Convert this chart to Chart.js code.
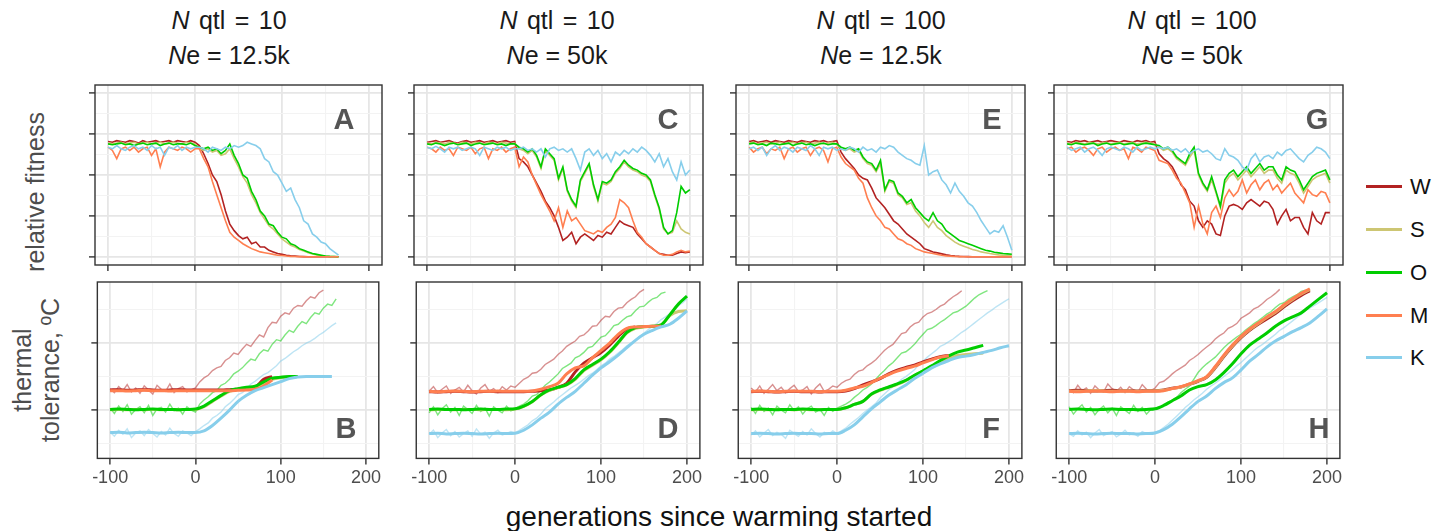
<!DOCTYPE html>
<html>
<head>
<meta charset="UTF-8">
<title>Relative fitness and thermal tolerance</title>
<script src="https://cdn.jsdelivr.net/npm/chart.js@4.4.1/dist/chart.umd.min.js"></script>
<style>
body { margin:0; background:#fff; width:1444px; height:531px; position:relative; overflow:hidden;
  font-family:"Liberation Sans", Arial, sans-serif; }
.hdr { position:absolute; transform:translateX(-50%); font-size:25px; color:#1a1a1a; white-space:nowrap; line-height:1; }
.hdr.q { word-spacing:2.5px; }
.rot { position:absolute; transform:translate(-50%,-50%) rotate(-90deg); font-size:25px; color:#4d4d4d;
  white-space:nowrap; text-align:center; line-height:28px; }
.let { position:absolute; transform:translate(-50%,-50%); font-size:29px; font-weight:bold; color:#555; line-height:1; }
.leg { position:absolute; left:1366px; width:36px; height:3px; }
.legt { position:absolute; left:1410px; font-size:22px; color:#111; line-height:1; transform:translateY(-50%); }
.xt { position:absolute; left:719px; top:503px; transform:translateX(-50%); font-size:28px; color:#111; white-space:nowrap; line-height:1; }
.wrap { position:absolute; }
</style>
</head>
<body>

<div class="hdr q" style="left:229px;top:8px"><i>N</i> qtl = 10</div>
<div class="hdr" style="left:229px;top:43px"><i>N</i>e = 12.5k</div>
<div class="hdr q" style="left:557px;top:8px"><i>N</i> qtl = 10</div>
<div class="hdr" style="left:557px;top:43px"><i>N</i>e = 50k</div>
<div class="hdr q" style="left:881px;top:8px"><i>N</i> qtl = 100</div>
<div class="hdr" style="left:881px;top:43px"><i>N</i>e = 12.5k</div>
<div class="hdr q" style="left:1192px;top:8px"><i>N</i> qtl = 100</div>
<div class="hdr" style="left:1192px;top:43px"><i>N</i>e = 50k</div>

<div class="rot" style="left:35px;top:192px">relative fitness</div>
<div class="rot" style="left:36px;top:370px">thermal<br>tolerance, ºC</div>

<div class="xt">generations since warming started</div>

<div class="leg" style="top:185px;background:#b22222"></div><div class="legt" style="top:187px">W</div>
<div class="leg" style="top:228px;background:#cdc673"></div><div class="legt" style="top:230px">S</div>
<div class="leg" style="top:271px;background:#00cd00"></div><div class="legt" style="top:273px">O</div>
<div class="leg" style="top:314px;background:#ff7f50"></div><div class="legt" style="top:316px">M</div>
<div class="leg" style="top:356px;background:#87ceeb"></div><div class="legt" style="top:358px">K</div>

<script>
// generations
const gen5 = [-100,-95,-90,-85,-80,-75,-70,-65,-60,-55,-50,-45,-40,-35,-30,-25,-20,-15,-10,-5,0,
  5,10,15,20,25,30,35,40,45,50,55,60,65,70,75,80,85,90,95,100,105,110,115,120,125,130,135,140,145,150,
  155,160,165,170,175,180,185,190,195,200];
const gen10 = [-100,-90,-80,-70,-60,-50,-40,-30,-20,-10,0,10,20,30,40,50,60,70,80,90,100,110,120,130,140,150,160,170,180,190,200];

const xGrid = [-100,-50,0,50,100,150,200];
const xLabels = [-100,0,100,200];
const fitGrid = [0,12.5,25,37.5,50,62.5,75,87.5,100];
const fitMajor = [0,25,50,75,100];
const tolGrid = [-5,0,5,10,15];
const tolMajor = [0,10];

// relative fitness (top row), every 5 generations
const fitA_W = [70.5,70,71,70.5,70,71,70.5,69.5,71,70,70.5,71,70,70.5,71,70,71,70.5,70,71,70,
  68,63,57,50,46,38,28,20,16,13,11,12,8,9,6,6,4,3,2,1.5,1,0.6,0.4,0.2,0.1,0,0,0,0,0,0,0,0];
const fitA_S = [69.5,69,69.5,70,69,69.5,70,69,69.5,70,69,69.5,70,69,69.5,70,69.5,69,70,69.5,69,
  66,65,66,64,65,62,63,66,60,55,49,45,38,33,27,23,19,17,14,11,9,7,6,4.5,3.5,2.5,1.8,1.2,0.8,0.4,0.2,0.1,0];
const fitA_O = [69,68.5,69,69.5,68.5,69,68,69,69.5,68.5,69,69.5,68,69,69.5,68.5,69,69,68.5,69.5,68,
  67,66,67,65,66,63,65,69,62,57,50,48,40,35,28,25,20,19,15,12,11,8,7,5,4,3,2,1.5,1,0.5,0.3,0.2,0];
const fitA_M = [67,65,60,66,67,65,67,64,66,67,62,66,55,64,67,66,65,67,66,64,66,
  66,60,55,46,38,30,22,15,12,10,8,6.5,5,4,3,2.5,2,1.5,1,0.8,0.5,0.3,0.2,0.1,0,0,0,0,0,0,0,0,0];
const fitA_K = [67,66,68,66,65,67,68,66,67,65,68,66,67,62,67,66,68,65,67,66,67,
  67,66,64,67,66,65,67,66,68,67,68,70,69,68,66,60,58,52,50,45,40,42,35,30,22,20,14,12,9,8,5,3,1];

const fitC_W = [70,70.5,71,70,70.5,71,70,69.5,70.5,71,70,70.5,71,70,70.5,71,70,70.5,71,70,70.5,
  60,58,55,50,45,40,34,30,25,18,10,12,15,8,12,14,12,10,13,12,15,14,18,22,20,19,18,14,11,8,6,4,2,1.5,1,1,2,3,2.5,3];
const fitC_S = [69.5,69,70,69.5,69,70,69.5,69,70,69.5,69,70,69.5,69,70,69.5,69,70,69.5,69,69.5,
  66,65,63,65,61,54,65,62,59,47,54,40,34,30,46,51,56,43,34,45,44,46,51,54,58,55,53,52,50,49,46,37,29,17,14,15,22,17,15,14];
const fitC_O = [69,68.5,69.5,69,68,69,69.5,68.5,69,69.5,68,69,69.5,68.5,69,69.5,68.5,69,68,69,69,
  67,66,64,66,62,55,66,63,60,48,55,41,35,31,47,52,57,44,35,46,45,47,52,55,59,56,54,53,51,50,47,38,30,18,14,16,27,43,39,41];
const fitC_M = [67,66,64,67,65,66,62,67,66,65,67,63,66,67,60,66,65,67,64,66,67,
  55,61,58,50,44,38,33,28,22,30,18,28,22,24,20,16,15,14,16,15,18,20,24,35,33,30,22,15,12,8,6,4,2,1,1,1.5,3,4,3,3.5];
const fitC_K = [67,66,67.5,66,64,67,66,67,65,66,67,66,62,67,66,65,67,66,67,65,66,
  66,67,65,66,64,66,61,66,67,65,66,64,66,60,53,64,66,62,65,60,63,58,64,62,65,63,66,64,67,65,62,58,63,55,60,52,47,58,50,53];

const fitE_W = [70.5,71,70,70.5,71,70,71,70.5,70,71,70.5,70,71,70.5,70,71,70.5,71,70,70.5,71,
  64,60,57,54,50,48,47,42,36,33,30,26,22,20,17,14,12,10,8,5,4,3,2.4,1.8,1.2,0.8,0.5,0.3,0.2,0.1,0,0,0,0,0,0,0,0,0,0];
const fitE_S = [69.5,70,69,69.5,70,69,69.5,70,69,69.5,70,69,69.5,70,69,69.5,70,69,69.5,70,69,
  66,65,66,64,65,60,57,56,52,57,40,46,45,38,36,32,33,28,25,21,18,22,18,16,13,11,9,7.5,6.5,5.5,4.5,3.8,3,2.5,2,1.6,1.2,1,0.8,0.6];
const fitE_O = [69,69.5,68.5,69,68,69.5,69,68.5,69,69.5,68,69,69.5,68.5,69,68,69,69.5,68.5,69,69,
  67,66,67,65,66,61,58,57,53,59,41,47,46,39,37,33,35,30,27,24,22,27,22,20,16,14,12,10,9,8,7,6,5,4,3.5,2.8,2.4,2,1.8,1.6];
const fitE_M = [67,64,66,67,63,66,65,67,60,66,67,64,66,67,62,66,67,65,58,66,67,
  61,57,55,53,48,45,36,30,25,22,18,17,14,11,10,8,7,5,4,3,2.5,2,1.5,1,0.6,0.4,0.2,0.1,0,0,0,0,0,0,0,0,0,0,0,0];
const fitE_K = [66,67,65,67,62,66,68,65,67,66,64,67,66,65,68,66,62,67,66,67,65,
  66,65,67,66,64,67,65,66,64,67,66,68,67,64,62,60,59,57,56,68,50,52,53,47,44,39,45,40,37,33,31,27,22,18,14,16,15,19,12,4];

const fitG_W = [70.5,70,71,70.5,71,70,70.5,71,70,70.5,71,70.5,70,71,70.5,70,71,70.5,71,70,70.5,
  63,60,58,55,50,44,41,34,31,22,18,22,20,14,13,25,31,32,31,29,33,35,33,31,34,33,29,20,25,29,22,24,24,18,14,27,22,20,27,27];
const fitG_S = [69.5,69,70,69.5,69,70,69.5,69,69.5,70,69,69.5,70,69,69.5,70,69,69.5,70,69.5,69,
  67,65,66,64,60,58,56,61,65,50,44,40,47,39,30,45,49,51,47,50,53,49,52,55,51,53,53,48,45,53,51,50,45,39,43,47,49,50,51,45];
const fitG_O = [69,68.5,69.5,69,68.5,69,69.5,68,69,69.5,68.5,69,69.5,68.5,69,69.5,68,69,69.5,69,68.5,
  68,66,67,65,61,59,57,63,67,51,45,41,49,40,31,47,51,53,49,52,55,51,54,57,53,55,55,50,47,55,53,52,47,41,45,49,51,52,53,47];
const fitG_M = [66,67,64,66,67,65,62,66,67,64,66,67,65,66,60,67,66,64,67,66,65,
  59,58,57,53,48,45,39,33,18,31,20,14,27,31,24,36,41,37,40,47,39,44,47,41,45,47,41,44,39,42,45,39,36,33,41,38,37,40,39,33];
const fitG_K = [67,65,66,67,64,66,67,65,62,66,67,66,65,67,66,64,67,65,66,67,66,
  67,66,67,65,66,64,66,63,65,66,64,65,63,60,59,66,62,61,59,55,53,60,63,58,61,62,60,64,62,65,66,63,60,58,62,64,67,66,64,60];

// thermal tolerance (bottom row): faint environment lines every 5 generations
const tolB_Wf = [3.2,2.6,3.5,2.9,3.8,2.7,3.3,2.5,3.6,3.0,2.4,3.7,3.1,2.8,3.9,2.6,3.2,3.5,2.7,3.0,3.3,
  4.2,4.8,5.2,5.9,6.3,6.5,7.4,7.8,8.5,8.3,9.1,9.8,9.5,10.4,11.2,10.9,12.3,13.1,13.0,14.0,14.5,14.3,15.2,15.6,15.5,16.3,16.9,16.7,17.5,17.9];
const tolB_Of = [0.3,-0.5,0.6,-0.2,0.8,-0.6,0.1,0.5,-0.4,0.7,-0.8,0.2,0.4,-0.3,0.9,-0.1,0.3,-0.6,0.5,0.0,-0.3,
  0.9,1.5,2.0,2.6,2.9,3.7,4.0,4.6,5.4,5.8,6.3,7.0,7.6,7.4,8.4,9.0,8.8,9.8,10.5,10.3,11.2,11.9,11.6,12.5,13.2,12.9,13.8,14.5,14.3,15.2,15.8,15.6,16.6];
const tolB_Kf = [-3.3,-3.9,-3.0,-3.6,-2.8,-4.1,-3.4,-3.1,-3.8,-2.9,-3.5,-4.0,-3.2,-3.7,-2.7,-3.5,-3.9,-3.1,-3.4,-3.8,-3.2,
  -2.8,-2.3,-1.9,-1.2,-0.8,-0.3,0.5,1.0,1.6,2.3,2.6,3.2,3.9,4.3,4.8,5.3,5.6,6.1,6.6,7.3,7.7,8.2,8.7,9.1,9.6,10.0,10.3,10.7,11.2,11.6,12.1,12.6,13.0];

const tolD_Wf = [2.8,3.5,2.6,3.1,3.6,2.5,3.0,3.4,2.7,3.7,2.9,2.4,3.3,3.8,2.8,3.2,2.6,3.5,3.0,3.6,3.4,
  4.0,4.6,4.9,5.5,5.6,6.1,6.8,7.2,7.6,8.3,8.8,9.5,9.9,10.3,11.0,11.2,11.8,12.5,12.6,13.4,14.0,13.9,14.7,15.2,15.3,16.0,16.5,16.9,17.6,18.0];
const tolD_Of = [-0.4,0.5,-0.7,0.2,0.8,-0.3,0.4,-0.8,0.6,0.1,-0.5,0.7,-0.2,0.3,-0.9,0.5,0.0,-0.4,0.6,-0.1,0.2,
  0.6,0.9,1.4,2.1,2.3,3.0,3.7,4.2,4.8,5.4,6.2,6.6,7.0,7.8,8.1,8.6,9.3,9.5,10.2,10.9,11.1,11.8,12.6,12.8,13.4,13.9,14.1,14.8,15.4,15.5,16.1,16.6,16.8,17.4,17.6];
const tolD_Kf = [-3.6,-3.0,-4.1,-3.4,-2.9,-3.8,-3.2,-4.0,-3.5,-3.1,-3.9,-2.8,-3.6,-3.3,-4.2,-3.4,-3.0,-3.7,-3.5,-3.2,-3.4,
  -3.0,-2.6,-2.2,-1.6,-1.2,-0.6,0.2,0.7,1.2,1.8,2.3,2.8,3.3,3.7,4.1,4.6,5.1,5.5,6.0,6.6,7.0,7.6,8.0,8.5,9.0,9.6,10.0,10.4,11.0,11.5,12.0,12.5,12.9,13.5,13.9,14.4,15.0,15.6,16.0,16.6];

const tolF_Wf = [3.3,2.7,3.6,2.5,3.1,3.8,2.9,3.4,2.6,3.2,3.7,2.8,3.0,3.5,2.4,3.3,3.9,2.8,3.1,3.6,3.4,
  4.0,4.4,4.6,5.3,5.8,6.0,6.6,7.0,7.5,8.2,8.9,9.4,9.8,10.6,11.4,11.6,12.4,12.9,13.1,13.9,14.4,14.6,15.0,15.5,15.8,16.4,16.9,17.3,17.8];
const tolF_Of = [0.4,-0.5,0.7,-0.2,0.3,-0.7,0.6,0.0,-0.4,0.8,-0.1,0.5,-0.6,0.2,0.6,-0.3,0.1,-0.8,0.4,-0.2,0.3,
  0.6,0.9,1.3,1.9,2.4,3.0,3.4,3.9,4.6,5.3,5.9,6.6,7.1,7.8,8.5,8.7,9.2,9.8,10.6,11.3,12.0,12.2,12.6,13.1,13.5,14.0,14.5,14.7,15.1,15.5,16.1,16.7,17.2,17.5,17.8];
const tolF_Kf = [-3.7,-3.1,-4.0,-3.4,-2.9,-3.8,-3.3,-3.6,-4.2,-3.0,-3.5,-3.9,-3.2,-3.7,-2.8,-3.5,-4.0,-3.3,-3.6,-3.1,-3.5,
  -3.1,-2.7,-2.1,-1.6,-1.1,-0.5,0.0,0.5,1.0,1.8,2.4,3.0,3.5,4.0,4.6,5.0,5.5,6.0,6.8,7.3,7.9,8.4,8.9,9.5,9.8,10.2,10.6,11.1,11.6,12.0,12.5,13.0,13.5,14.0,14.5,14.9,15.4,15.8,16.2,16.6];

const tolH_Wf = [3.1,2.6,3.7,2.9,3.3,2.5,3.6,3.0,2.7,3.9,3.2,2.8,3.4,2.6,3.5,3.0,2.7,3.8,3.1,2.9,3.3,
  4.1,4.3,4.8,5.4,5.9,6.3,6.7,7.4,7.8,8.3,8.9,9.4,9.9,10.6,11.1,11.5,12.2,12.5,12.9,13.7,14.1,14.5,15.1,15.4,15.9,16.5,16.9,17.4,18.0];
const tolH_Of = [0.5,-0.6,0.2,0.8,-0.3,0.4,-0.7,0.1,0.6,-0.4,0.3,-0.8,0.5,0.0,-0.5,0.7,-0.2,0.4,-0.6,0.1,0.2,
  0.4,0.7,1.2,1.5,1.9,2.6,3.1,3.6,4.6,5.6,6.3,6.9,7.4,7.9,8.6,9.3,9.9,10.4,10.9,11.3,11.9,12.4,12.9,13.3,13.8,14.3,14.7,15.3,15.8,16.0,16.5,16.9,17.2,17.7,17.9];
const tolH_Kf = [-3.5,-3.9,-3.1,-3.7,-3.3,-4.1,-3.4,-2.9,-3.8,-3.5,-3.2,-4.0,-3.6,-3.0,-3.7,-3.4,-3.9,-3.2,-3.5,-3.6,-3.3,
  -3.1,-2.6,-2.1,-1.5,-0.9,-0.3,0.4,0.9,1.5,2.0,2.5,3.1,3.6,4.0,4.5,5.0,5.5,6.0,6.6,7.1,7.7,8.3,8.9,9.4,9.8,10.3,10.8,11.3,11.9,12.3,12.8,13.3,13.8,14.3,14.9,15.2,15.6,16.0,16.4,16.8];

// mean thermal tolerance (bold lines), every 10 generations
const tolB_W = [3.0,3.05,2.95,3.0,3.05,3.0,2.95,3.0,3.05,3.0,3.0, 3.0,3.0,3.0,3.05,3.1,3.2,3.4,4.6,5.0];
const tolB_M = [2.9,2.9,2.85,2.9,2.95,2.9,2.9,2.85,2.9,2.9,2.9, 2.9,2.9,2.9,2.9,2.95,3.0,3.1,3.6,4.5];
const tolB_S = [0.05,0.1,0.05,0.1,0.05,0.1,0.05,0.1,0.05,0.1,0.1, 0.5,1.3,2.1,2.8,3.1,3.3,3.5,4.0,4.6,4.85,4.95,5.0];
const tolB_O = [0.1,0.15,0.1,0.05,0.1,0.15,0.1,0.1,0.05,0.1,0.15, 0.6,1.4,2.2,2.9,3.2,3.4,3.55,4.2,4.75,4.9,5.0,5.0];
const tolB_K = [-3.35,-3.3,-3.4,-3.35,-3.3,-3.35,-3.4,-3.35,-3.3,-3.35,-3.35, -3.1,-2.3,-1.2,0.0,1.3,2.2,2.9,3.35,3.8,4.25,4.7,4.95,5.0,5.0,5.0,5.0];

const tolD_W = [2.75,2.7,2.75,2.8,2.75,2.7,2.75,2.8,2.75,2.75,2.75, 2.75,2.8,2.9,3.0,3.4,4.0,5.7,7.0,7.8,8.6,9.7,11.0,12.1,12.4];
const tolD_M = [2.8,2.75,2.8,2.85,2.8,2.75,2.8,2.8,2.85,2.8,2.8, 2.8,2.85,3.1,3.5,4.0,5.4,6.3,6.6,7.8,8.9,10.0,11.3,12.2,12.4,12.45,12.5,12.5];
const tolD_S = [0.05,0.1,0.1,0.05,0.1,0.1,0.05,0.1,0.1,0.05,0.15, 0.55,1.25,2.25,2.95,3.35,3.75,4.6,5.9,6.7,7.5,8.6,10.0,11.5,12.2,12.4,12.5,12.7,14.1,14.7,14.8];
const tolD_O = [0.1,0.15,0.1,0.1,0.05,0.1,0.15,0.1,0.1,0.15,0.2, 0.6,1.3,2.3,3.0,3.4,3.8,4.7,6.0,6.8,7.6,8.7,10.1,11.6,12.3,12.45,12.5,12.7,14.2,15.8,17.0];
const tolD_K = [-3.5,-3.45,-3.55,-3.5,-3.45,-3.5,-3.55,-3.5,-3.45,-3.5,-3.45, -3.0,-2.2,-1.2,-0.3,0.9,1.9,2.8,4.0,5.2,6.3,7.2,8.2,9.3,10.4,11.3,11.9,12.4,12.8,13.7,14.8];

const tolF_W = [2.75,2.8,2.75,2.7,2.75,2.8,2.75,2.75,2.7,2.75,2.75, 2.85,3.2,3.75,4.2,4.7,5.4,5.95,6.35,6.7,7.2,7.6,7.95,8.15];
const tolF_M = [2.8,2.85,2.8,2.75,2.8,2.85,2.8,2.8,2.75,2.8,2.8, 2.95,3.3,3.55,4.1,4.75,5.3,5.8,6.2,6.55,7.05,7.5,7.9,8.1];
const tolF_S = [0.05,0.1,0.05,0.1,0.1,0.05,0.1,0.05,0.1,0.1,0.1, 0.35,0.85,1.3,2.35,2.95,3.4,3.85,4.4,5.15,5.8,6.45,7.1,7.75,8.15,8.3,8.4,8.5];
const tolF_O = [0.1,0.15,0.1,0.05,0.1,0.1,0.15,0.1,0.05,0.1,0.1, 0.35,0.85,1.3,2.4,3.0,3.45,3.9,4.45,5.2,5.85,6.6,7.4,8.1,8.65,8.95,9.3,9.65];
const tolF_K = [-3.5,-3.45,-3.5,-3.55,-3.5,-3.45,-3.5,-3.5,-3.55,-3.5,-3.5, -3.0,-2.2,-1.0,0.2,1.2,2.2,3.0,3.75,4.7,5.5,6.3,6.9,7.4,7.85,8.05,8.3,8.6,8.9,9.3,9.6];

const tolH_W = [2.9,2.95,2.9,2.85,2.9,2.95,2.9,2.9,2.85,2.9,2.9, 3.0,3.25,3.45,3.85,4.3,4.9,6.3,8.0,9.5,10.8,11.9,12.8,13.6,14.4,15.4,16.3,17.1,17.8];
const tolH_M = [2.8,2.75,2.8,2.85,2.8,2.75,2.8,2.8,2.75,2.8,2.8, 2.9,3.2,3.5,3.9,4.4,5.0,6.5,8.2,9.7,11.0,12.1,13.0,13.9,14.7,15.7,16.6,17.4,18.1];
const tolH_S = [2.85,2.8,2.85,2.9,2.85,2.8,2.85,2.85,2.8,2.85,2.85, 2.95,3.2,3.45,3.85,4.35,4.95,6.4,8.1,9.6,10.9,12.0,12.9,13.8,14.6,15.6,16.5,17.3,18.0];
const tolH_O = [0.1,0.15,0.1,0.05,0.1,0.15,0.1,0.1,0.05,0.1,0.2, 0.7,1.4,2.1,3.0,3.5,3.8,4.5,5.6,6.9,8.4,9.7,10.6,11.5,12.5,13.3,13.9,14.5,15.5,16.5,17.5];
const tolH_K = [-3.5,-3.45,-3.5,-3.55,-3.5,-3.45,-3.5,-3.5,-3.55,-3.5,-3.4, -2.9,-2.1,-1.0,0.2,1.3,2.1,3.2,4.1,4.8,6.0,7.3,8.3,9.4,10.3,11.0,11.7,12.3,13.0,14.0,15.1];

const colW = '#b22222', colS = '#cdc673', colO = '#00cd00', colM = '#ff7f50', colK = '#87ceeb';
const fadeW = 'rgba(178,34,34,0.5)', fadeO = 'rgba(0,205,0,0.5)', fadeK = 'rgba(135,206,235,0.55)';

Chart.defaults.font.family = '"Liberation Sans", Arial, sans-serif';

var pts = function(gens, vals) {
  return vals.map(function(v, i) { return {x: gens[i], y: v}; });
};

var noisy = function(vals, col) {
  return {data: pts(gen5, vals), borderColor: col, borderWidth: 1.6, pointRadius: 0, tension: 0};
};
var faint = function(vals, col) {
  return {data: pts(gen5, vals), borderColor: col, borderWidth: 1.4, pointRadius: 0, tension: 0};
};
var bold = function(vals, col) {
  return {data: pts(gen10, vals), borderColor: col, borderWidth: 3, pointRadius: 0, cubicInterpolationMode: 'monotone'};
};

// panel frame like ggplot theme_bw
var frame = {
  id: 'frame',
  afterDatasetsDraw: function(chart) {
    var a = chart.chartArea, ctx = chart.ctx;
    ctx.save();
    ctx.strokeStyle = '#333';
    ctx.lineWidth = 1.4;
    ctx.strokeRect(a.left, a.top, a.right - a.left, a.bottom - a.top);
    ctx.restore();
  }
};

var makeConfig = function(datasets, yMin, yMax, yGrid, yMajor, showX) {
  var gridOpts = function(major) {
    return {
      color: function(c) { return major.indexOf(c.tick.value) >= 0 ? '#e6e6e6' : '#f3f3f3'; },
      lineWidth: function(c) { return major.indexOf(c.tick.value) >= 0 ? 1.8 : 1.1; },
      tickColor: function(c) { return major.indexOf(c.tick.value) >= 0 ? '#333' : 'rgba(0,0,0,0)'; },
      tickWidth: 1.4,
      tickLength: 6,
      drawTicks: true
    };
  };
  return {
    type: 'line',
    data: {datasets: datasets},
    options: {
      responsive: false,
      animation: false,
      devicePixelRatio: 1,
      layout: {padding: {top: 2, right: 2}},
      plugins: {legend: {display: false}, tooltip: {enabled: false}},
      scales: {
        x: {
          type: 'linear', min: -115, max: 215,
          afterBuildTicks: function(s) { s.ticks = xGrid.map(function(v) { return {value: v}; }); },
          grid: gridOpts(xLabels),
          border: {display: false},
          ticks: {
            display: showX, autoSkip: false, maxRotation: 0, padding: 3,
            color: '#4d4d4d', font: {size: 18},
            callback: function(v) { return xLabels.indexOf(v) >= 0 ? String(v) : ''; }
          }
        },
        y: {
          min: yMin, max: yMax,
          afterBuildTicks: function(s) { s.ticks = yGrid.map(function(v) { return {value: v}; }); },
          grid: gridOpts(yMajor),
          border: {display: false},
          ticks: {display: false}
        }
      }
    },
    plugins: [frame]
  };
};

// place a chart so that its plot area lands on the given box
var build = function(box, cfgFn) {
  var wrap = document.createElement('div');
  wrap.className = 'wrap';
  var cv = document.createElement('canvas');
  wrap.appendChild(cv);
  document.body.appendChild(wrap);
  cv.width = box.w + 80; cv.height = box.h + 80;
  var ch = new Chart(cv, cfgFn());
  var a = ch.chartArea;
  var l = a.left, t = a.top, r = cv.width - a.right, b = cv.height - a.bottom;
  ch.destroy();
  cv.width = Math.round(box.w + l + r);
  cv.height = Math.round(box.h + t + b);
  wrap.style.left = (box.x - l) + 'px';
  wrap.style.top = (box.y - t) + 'px';
  return new Chart(cv, cfgFn());
};

var colX = [95, 414, 736, 1054];
var colW_ = [287, 289, 289, 289];

var topSets = [
  [fitA_K, fitA_M, fitA_O, fitA_S, fitA_W],
  [fitC_K, fitC_M, fitC_O, fitC_S, fitC_W],
  [fitE_K, fitE_M, fitE_O, fitE_S, fitE_W],
  [fitG_K, fitG_M, fitG_O, fitG_S, fitG_W]
];
var botSets = [
  [tolB_K, tolB_M, tolB_O, tolB_S, tolB_W, tolB_Kf, tolB_Of, tolB_Wf],
  [tolD_K, tolD_M, tolD_O, tolD_S, tolD_W, tolD_Kf, tolD_Of, tolD_Wf],
  [tolF_K, tolF_M, tolF_O, tolF_S, tolF_W, tolF_Kf, tolF_Of, tolF_Wf],
  [tolH_K, tolH_M, tolH_O, tolH_S, tolH_W, tolH_Kf, tolH_Of, tolH_Wf]
];
var topLetters = ['A', 'C', 'E', 'G'];
var botLetters = ['B', 'D', 'F', 'H'];
var letterX = [[344, 346], [668, 668], [992, 991], [1317, 1319]];

for (var i = 0; i < 4; i++) {
  (function(i) {
    var s = topSets[i];
    build({x: colX[i], y: 85, w: colW_[i], h: 180}, function() {
      return makeConfig([noisy(s[0], colK), noisy(s[1], colM), noisy(s[2], colO), noisy(s[3], colS), noisy(s[4], colW)],
        -5, 105, fitGrid, fitMajor, false);
    });
    var t = botSets[i];
    build({x: colX[i], y: 282, w: colW_[i], h: 176}, function() {
      return makeConfig([bold(t[0], colK), bold(t[1], colM), bold(t[2], colO), bold(t[3], colS), bold(t[4], colW),
        faint(t[5], fadeK), faint(t[6], fadeO), faint(t[7], fadeW)],
        -7.2, 19.1, tolGrid, tolMajor, true);
    });
    var la = document.createElement('div');
    la.className = 'let'; la.textContent = topLetters[i];
    la.style.left = letterX[i][0] + 'px'; la.style.top = '119px';
    document.body.appendChild(la);
    var lb = document.createElement('div');
    lb.className = 'let'; lb.textContent = botLetters[i];
    lb.style.left = letterX[i][1] + 'px'; lb.style.top = '428px';
    document.body.appendChild(lb);
  })(i);
}
</script>
</body>
</html>
